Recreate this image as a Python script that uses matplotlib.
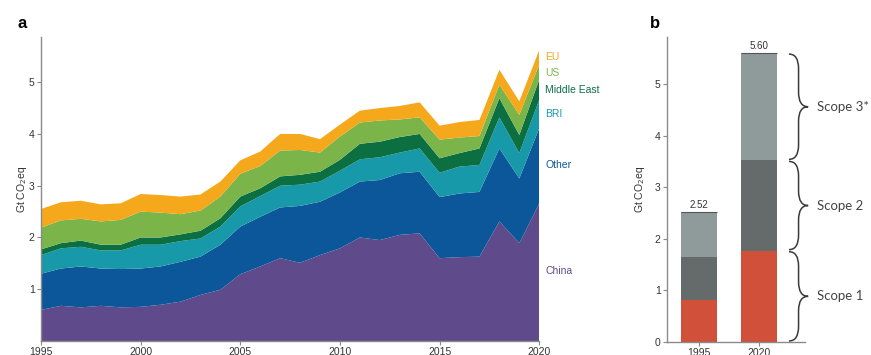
import numpy as np
import matplotlib
matplotlib.use("Agg")
import matplotlib.pyplot as plt
from matplotlib.path import Path
from matplotlib.patches import PathPatch

plt.rcParams['font.family'] = ['Liberation Sans', 'DejaVu Sans']

# Panel a: emissions by destination, Gt CO2eq (stacked layers)
years = list(range(1995, 2021))
china = [0.60, 0.68, 0.65, 0.68, 0.65, 0.66, 0.70, 0.76, 0.89, 0.99, 1.29, 1.44, 1.60,
         1.51, 1.66, 1.79, 2.00, 1.95, 2.05, 2.08, 1.60, 1.62, 1.63, 2.31, 1.89, 2.66]
other = [0.70, 0.72, 0.79, 0.72, 0.74, 0.74, 0.74, 0.77, 0.74, 0.87, 0.92, 0.96, 0.98,
         1.10, 1.03, 1.08, 1.08, 1.16, 1.19, 1.19, 1.18, 1.23, 1.25, 1.41, 1.25, 1.45]
bri = [0.36, 0.39, 0.38, 0.35, 0.36, 0.46, 0.42, 0.40, 0.35, 0.35, 0.39, 0.40, 0.42,
       0.41, 0.39, 0.42, 0.43, 0.44, 0.40, 0.45, 0.47, 0.52, 0.52, 0.60, 0.49, 0.55]
middle_east = [0.11, 0.10, 0.12, 0.11, 0.11, 0.14, 0.14, 0.13, 0.15, 0.16, 0.19, 0.15, 0.18,
               0.19, 0.19, 0.21, 0.30, 0.30, 0.30, 0.28, 0.28, 0.26, 0.32, 0.37, 0.35, 0.39]
us = [0.42, 0.44, 0.42, 0.45, 0.48, 0.50, 0.48, 0.39, 0.39, 0.42, 0.44, 0.43, 0.50,
      0.48, 0.37, 0.45, 0.41, 0.41, 0.34, 0.32, 0.36, 0.30, 0.24, 0.26, 0.39, 0.29]
eu = [0.36, 0.35, 0.35, 0.33, 0.32, 0.34, 0.34, 0.34, 0.31, 0.29, 0.26, 0.28, 0.32,
      0.31, 0.26, 0.23, 0.23, 0.24, 0.26, 0.29, 0.27, 0.30, 0.31, 0.29, 0.26, 0.28]

region_names = ["China", "Other", "BRI", "Middle East", "US", "EU"]
region_colors = ["#5f4a8b", "#0b5799", "#1799a9", "#0b6f42", "#7bb549", "#f6a81c"]

# Panel b: emissions by scope, Gt CO2eq
bar_years = ["1995", "2020"]
scope1 = [0.81, 1.77]
scope2 = [0.84, 1.75]
scope3 = [0.87, 2.08]
scope_colors = ["#d1503a", "#656b6a", "#8f9a9b"]
scope_labels = ["Scope 1", "Scope 2", "Scope 3*"]

fig = plt.figure(figsize=(8.71, 3.55), dpi=100)
axa = fig.add_axes([0.0471, 0.0394, 0.572, 0.856])
axb = fig.add_axes([0.7658, 0.0366, 0.1584, 0.859])

axa.stackplot(years, china, other, bri, middle_east, us, eu,
              colors=region_colors, linewidth=0)
axa.set_xlim(1995, 2020)
axa.set_ylim(0, 5.87)
axa.set_xticks([1995, 2000, 2005, 2010, 2015, 2020])
axa.set_yticks([1, 2, 3, 4, 5])

# names on the right, stacked in the same order as the layers
label_pos = {"EU": 5.48, "US": 5.18, "Middle East": 4.84, "BRI": 4.38, "Other": 3.40, "China": 1.35}
for name, col in zip(region_names, region_colors):
    axa.text(2020.3, label_pos[name], name, color=col, fontsize=7.5,
             va="center", ha="left", clip_on=False)

axb.bar([0, 1], scope1, width=0.6, color=scope_colors[0])
axb.bar([0, 1], scope2, width=0.6, bottom=scope1, color=scope_colors[1])
bottom3 = [a + b for a, b in zip(scope1, scope2)]
axb.bar([0, 1], scope3, width=0.6, bottom=bottom3, color=scope_colors[2])
totals = [a + b for a, b in zip(bottom3, scope3)]
axb.hlines(totals, [-0.3, 0.7], [0.3, 1.3], color="#555555", lw=0.8)
for i, t in enumerate(totals):
    axb.text(i, t + 0.04, "%.2f" % t, ha="center", va="bottom", fontsize=7, color="#333333")
axb.set_xlim(-0.533, 1.767)
axb.set_ylim(0, 5.91)
axb.set_xticks([0, 1])
axb.set_xticklabels(bar_years)
axb.set_yticks([0, 1, 2, 3, 4, 5])


def brace(ax, y0, y1, x0=1.5, w=0.32, q=0.28):
    # curly brace "}" from y0 to y1, tip pointing right
    xm = x0 + w / 2
    ym = (y0 + y1) / 2
    verts = [(x0, y0), (xm, y0), (xm, y0 + q), (xm, ym - q), (xm, ym), (x0 + w, ym),
             (xm, ym), (xm, ym + q), (xm, y1 - q), (xm, y1), (x0, y1)]
    codes = [Path.MOVETO, Path.CURVE3, Path.CURVE3, Path.LINETO, Path.CURVE3, Path.CURVE3,
             Path.CURVE3, Path.CURVE3, Path.LINETO, Path.CURVE3, Path.CURVE3]
    ax.add_patch(PathPatch(Path(verts, codes), fill=False, ec="#3a3a3a", lw=1.1, clip_on=False))


edges = [0, scope1[1], bottom3[1], totals[1]]
for k in range(3):
    brace(axb, edges[k] + 0.02, edges[k + 1] - 0.02)
    axb.text(1.97, (edges[k] + edges[k + 1]) / 2, scope_labels[k], family=["Lato", "DejaVu Sans"],
             fontsize=9.5, color="#444444", va="center", ha="left", clip_on=False)

for ax in (axa, axb):
    for s in ("top", "right"):
        ax.spines[s].set_visible(False)
    for s in ("left", "bottom"):
        ax.spines[s].set_color("#8a8a8a")
        ax.spines[s].set_linewidth(1.0)
    ax.tick_params(length=3, width=0.8, color="#8a8a8a", labelsize=7.5, labelcolor="#333333", pad=1.5)

axa.set_ylabel("Gt CO$_2$eq", fontsize=7.5, color="#333333", labelpad=0)
axb.set_ylabel("Gt CO$_2$eq", fontsize=7.5, color="#333333", labelpad=6)

fig.text(17 / 871, 1 - 23 / 355, "a", fontsize=12, fontweight="bold", va="center")
fig.text(650 / 871, 1 - 23 / 355, "b", fontsize=12, fontweight="bold", va="center")

fig.savefig("out.png", dpi=100)
